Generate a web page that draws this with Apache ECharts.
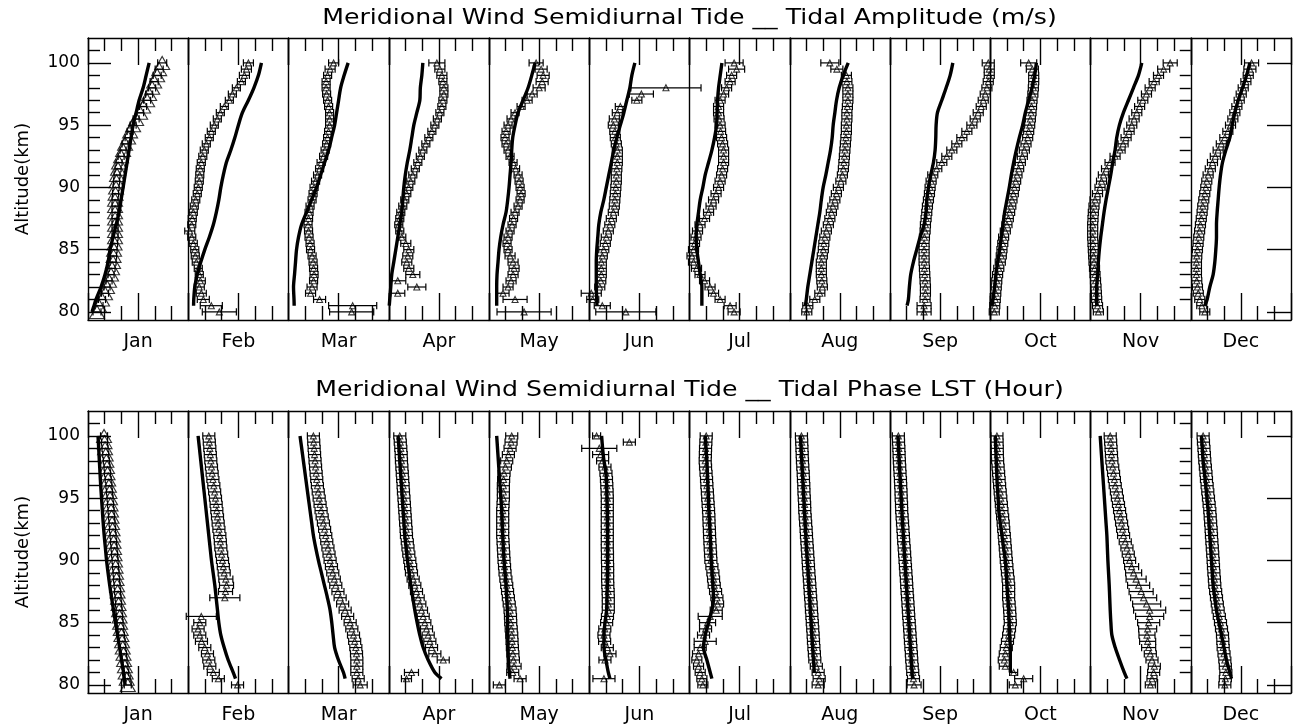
<!DOCTYPE html>
<html><head><meta charset="utf-8">
<script src="https://cdn.jsdelivr.net/npm/echarts@6/dist/echarts.min.js"></script>
<style>html,body{margin:0;padding:0;background:#fff}#c{width:1294px;height:727px}</style>
</head><body><div id="c"></div>
<script>
// ---------- categories / axes ----------
const months = ['Jan','Feb','Mar','Apr','May','Jun','Jul','Aug','Sep','Oct','Nov','Dec'];
const obsAlt = [80,80.5,81,81.5,82,82.5,83,83.5,84,84.5,85,85.5,86,86.5,87,87.5,88,88.5,89,89.5,90,90.5,91,91.5,92,92.5,93,93.5,94,94.5,95,95.5,96,96.5,97,97.5,98,98.5,99,99.5,100];
const modelAlt = [80,80.5,81,82,83,84,85,86,87,88,89,90,91,92,93,94,95,96,97,98,99,100];
const altMajorTicks = [80,85,90,95,100];
const altMinorTicks = [81,82,83,84,86,87,88,89,91,92,93,94,96,97,98,99,101];
const titleAmp = 'Meridional Wind Semidiurnal Tide __ Tidal Amplitude (m/s)';
const titlePhase = 'Meridional Wind Semidiurnal Tide __ Tidal Phase LST (Hour)';

// ---------- amplitude (m/s): observed, error, model ----------
const ampObsJan = [5.4,6.6,8.4,10.2,11.4,12.6,13.8,14.4,15,15.3,15.6,15.9,16.2,16.2,16.2,16.2,16.2,16.2,16.2,16.5,16.8,17.1,17.4,18,18.6,19.8,21,22.2,24,25.2,27,28.8,31.2,33,35.4,36.6,38.4,39.6,41.4,42.6,44.4];
const ampObsFeb = [18.6,13.8,9,7.8,6.6,7.2,6.6,6,4.8,4.2,3.9,3,2.1,0.9,2.1,2.4,3,3.6,4.5,5.4,6,6.6,6.9,7.2,7.8,8.7,9.6,10.8,12.6,13.8,15.6,17.4,19.2,21.6,24.6,26.4,28.8,31.8,33.6,34.8,36];
const ampObsMar = [37.8,38.4,18.6,13.2,14.1,15,15.3,15,14.7,14.1,13.2,12.9,12.3,12,11.7,12,12.3,12.9,14.1,14.7,15.3,16.2,17.4,18.6,19.5,21,21.9,22.8,23.4,24,24.6,24.6,24.6,24,23.4,22.8,22.5,22.5,23.4,24.9,27];
const ampObsApr = [null,null,null,5.4,16.8,5.4,14.4,12,10.8,11.4,12,10.2,7.8,6.6,6,6.6,7.2,8.4,9.6,10.8,12,13.2,14.4,15.9,17.4,18.9,20.4,22.2,24,25.8,27.6,29.1,30.6,31.8,32.4,33,33,32.4,31.8,30.6,28.8];
const ampObsMay = [21,null,15.6,8.4,11.4,13.2,14.4,15,14.4,12.6,11.4,10.8,11.4,12.6,13.8,14.7,15.6,17.4,18.6,19.2,18.6,18,17.4,15.9,14.4,12.6,11.4,10.2,9.6,10.2,11.4,13.2,15.6,19.2,22.8,25.8,30,31.8,32.4,31.2,28.2];
const ampObsJun = [21.9,7.8,2.1,1.2,6.3,6.9,7.2,7.2,7.2,7.8,8.7,9.6,10.2,11.4,12.3,13.2,14.4,15,15.3,15.6,15.9,16.2,16.2,16.5,16.8,16.8,16.8,16.2,15.6,15.3,14.4,15,16.8,18.6,28.5,31.2,45.9,null,null,null,null];
const ampObsJul = [26.7,24.3,18.3,14.4,12.3,9,6.3,4.2,2.4,1.5,2.4,3,3.9,4.8,6.3,9,11.4,12.9,14.4,15.9,17.4,18.3,19.2,19.8,20.4,20.4,20.4,19.8,19.2,18.6,18.3,17.7,17.4,17.4,18.3,20.4,22.2,24.3,25.2,28.2,26.7];
const ampObsAug = [10.2,10.8,15,18,19.5,19.2,18.9,18.9,18.9,19.5,20.1,20.4,21,21.9,23.1,24,24.9,25.8,27,27.9,29.1,30.6,31.5,32.1,32.4,32.7,33,33.3,33.6,33.9,33.9,34.2,34.2,34.5,34.8,34.8,34.8,34.2,33.9,28.2,24];
const ampObsSep = [20.4,20.4,21,21.2,21.2,21,20.8,20.6,20.4,20.4,20.4,20.4,20.6,21,21.2,21.6,22,22.4,23,23.6,24,24.6,25.6,28,31,34,37,40,43,46,49,51,52.8,54.6,55.8,57,58,58.8,59.4,59.4,58.8];
const ampObsOct = [2.4,2.7,3,3.3,3.6,3.9,4.4,5.1,6,6.6,7,7.5,8,9,10,10.8,11.6,12.3,13,13.8,14.4,15.2,16,17,18,19.2,20.4,21.4,22.4,23,23.6,24,24.4,24.7,25,25.5,25.8,26,26,25.2,23];
const ampObsNov = [4.7,4.2,3.7,3.5,3.3,3,2.7,2.4,2.1,1.9,1.7,1.5,1.3,1.3,1.3,1.5,1.7,2.1,2.7,4.2,5.7,6.6,7.7,9.6,11.7,14.7,17.7,19.5,21.3,23.1,24.7,26.1,27.7,29.4,31.3,33.5,35.7,38.1,40.7,43.8,47.7];
const ampObsDec = [8.4,6.6,5.4,4.5,4,3.6,3.4,3.4,3.4,3.6,4,4.4,4.8,5.3,5.8,6.3,6.8,7.2,7.8,8.4,9,9.6,10.4,11.7,13,14.7,16.4,18.3,20.4,22.2,23.8,25.2,26.4,27.6,29,30.2,31.4,33,34.4,35.4,36.4];

const ampErrJan = [2.4,2.4,2.1,2.1,1.8,1.8,1.8,1.8,1.8,1.8,1.8,1.8,1.8,1.8,1.8,1.8,1.8,1.8,1.8,1.8,1.8,1.8,1.8,1.8,1.8,1.8,1.8,1.8,1.8,1.8,1.8,1.8,2.1,2.1,2.1,2.1,2.1,2.4,2.4,2.4,2.7];
const ampErrFeb = [10.2,6.6,3.6,3,3,3,2.4,2.4,2.4,2.4,2.4,2.4,2.4,3,2.4,2.4,2.4,2.4,2.4,2.4,2.4,2.4,2.4,2.4,2.4,2.4,2.4,2.4,2.4,2.4,2.4,2.4,2.4,2.4,2.4,2.4,2.4,2.4,3,3,3];
const ampErrMar = [13.2,14.4,3.6,3,3,2.4,2.4,2.4,2.4,2.4,2.4,2.4,2.4,2.4,2.4,2.4,2.4,2.4,2.4,2.4,2.4,2.4,2.4,2.4,2.4,2.4,2.4,2.4,2.4,2.4,2.4,2.4,2.4,2.4,2.4,2.4,2.4,2.4,2.4,3,3];
const ampErrApr = [null,null,null,4.2,5.4,4.8,4.2,3,3,3,3,3,2.4,2.4,2.4,2.4,2.4,2.4,2.4,2.4,2.4,2.4,2.4,2.4,2.4,2.4,2.4,2.4,2.4,2.4,2.4,2.4,2.4,2.4,2.4,2.4,2.4,2.4,3,3,4.8];
const ampErrMay = [16.2,null,7.2,3.6,3,3,3,3,3,3,2.4,2.4,2.4,2.4,2.4,2.4,2.4,2.4,2.4,2.4,2.4,2.4,2.4,2.4,2.4,2.4,2.4,2.4,2.4,2.4,2.4,2.4,2.4,2.4,3,3,3.6,3.6,3.6,3.6,4.2];
const ampErrJun = [18,4.8,3.6,6,3,3,3,3,3,3,3,3,3,3,3,3,3,3,3,3,3,3,3,3,3,3,3,3,3,3,3,3,3,3,3,7.2,21,null,null,null,null];
const ampErrJul = [3.6,3.6,3,3,3,3,3,3,3,3,3,3,3,3,3,3,3,3,3,3,3,3,3,3,3,3,3,3,3,3,3,3,3,3,3,3,3,3,3,4.8,5.4];
const ampErrAug = [3,3,3,3,3,3,3,3,3,3,3,3,3,3,3,3,3,3,3,3,3,3,3,3,3,3,3,3,3,3,3,3,3,3,3,3,3,3,3,3.6,5.4];
const ampErrSep = [4.2,4.2,3,3,3,3,3,3,3,3,3,3,3,3,3,3,3,3,3,3,3,3,3,3,3,3,3,3,3,3,3,3,3,3,3,3,3,3,3,3,3.6];
const ampErrOct = [3,3,3,3,3,3,3,3,3,3,3,3,3,3,3,3,3,3,3,3,3,3,3,3,3,3,3,3,3,3,3,3,3,3,3,3,3,3,3,3.6,4.8];
const ampErrNov = [3,3,3,3,3,3,3,3,3,3,3,3,3,3,3,3,3,3,3,3,3,3,3,3,3,3,3,3,3,3,3,3,3,3,3,3,3,3,3,3.6,4.2];
const ampErrDec = [3,3,3,3,3,3,3,3,3,3,3,3,3,3,3,3,3,3,3,3,3,3,3,3,3,3,3,3,3,3,3,3,3,3,3,3,3,3,3,3.6,4.2];

const ampModelJan = [2.4,3.6,4.8,7.8,10.2,12,13.2,15,16.8,18.6,19.8,21,22.2,23.4,24.6,25.8,27,28.8,30.6,33,34.8,36.6];
const ampModelFeb = [null,3.2,3.3,3.9,5.4,7.5,9.9,12.6,15,16.8,18.3,19.5,21,22.8,25.5,27.9,30,32.4,36,39.3,42,43.8];
const ampModelMar = [null,3.4,3.3,3,3.6,4.2,4.8,6,7.8,10.8,13.8,16.8,19.2,21.6,24,25.8,27.6,28.8,30,31.2,33.3,35.7];
const ampModelApr = [null,0.3,0.6,1.2,1.8,3,4.2,5.4,6.6,7.8,8.4,9,9.9,11.1,12.6,13.8,15,16.8,18.6,18.9,19.8,20.4];
const ampModelMay = [null,4.6,4.6,4.6,4.8,5.4,6,7,8.4,10.2,11.2,12,12.6,13.2,13.6,14.2,15.6,17.4,20.4,23.4,25.6,27.6];
const ampModelJun = [null,4.6,4.5,4.2,4.2,4.2,4.5,5.1,5.7,6.9,8.7,10.2,11.7,13.2,14.7,16.5,18.6,20.7,22.5,24.3,25.5,27.3];
const ampModelJul = [null,7.4,7.4,7.4,6.4,5.4,4.4,4,4.4,5.4,6.4,8,9.4,11.4,13.4,15,16.2,16.5,16.8,17.4,18.4,19.4];
const ampModelAug = [null,9.3,9.9,10.8,12,13.2,14.4,15.6,16.8,18,18.9,20,21.6,23,24.4,25.4,26,27,28,29.6,32,35];
const ampModelSep = [null,10.2,11,11.6,12.4,14,16,18,20.4,21.6,22,23,24.4,26,27,27.4,27.6,28.4,31,33.6,36,37.6];
const ampModelOct = [null,1,1.6,2.6,3.4,4.4,5.6,6.6,7.6,8.6,10,11.4,12.6,14,15.6,17.4,19.4,21,23,25,26.6,27.6];
const ampModelNov = [null,3.7,3.7,3.7,4.3,4.7,5.3,6.1,7.1,8.1,9.3,10.7,12.1,13.3,14.7,15.7,17.3,19.7,22.7,25.7,28.7,30.7];
const ampModelDec = [null,8.4,9.8,11.4,13.4,14.4,15,15.4,15.4,15.8,16.4,17,17.8,19,21,23.4,24.8,26.4,28.4,31,33.4,35.4];

// ---------- phase (hour LST): observed, error, model ----------
const phObsJan = [4.76,4.63,4.51,4.42,4.32,4.25,4.16,4.08,4.0,3.92,3.84,3.78,3.72,3.66,3.6,3.54,3.48,3.42,3.36,3.3,3.24,3.18,3.12,3.06,3.0,2.94,2.88,2.82,2.76,2.7,2.64,2.57,2.5,2.42,2.34,2.28,2.2,2.12,2.04,1.98,1.92];
const phObsFeb = [5.9,3.6,3.0,2.58,2.46,2.3,1.98,1.58,1.38,1.18,1.38,1.56,null,null,4.38,4.46,4.58,4.5,4.3,4.2,4.1,4.0,3.9,3.84,3.78,3.67,3.58,3.5,3.42,3.34,3.26,3.16,3.06,2.95,2.86,2.78,2.7,2.64,2.58,2.52,2.46];
const phObsMar = [8.58,8.34,8.18,8.18,8.18,8.14,8.06,7.92,7.78,7.58,7.38,7.08,6.78,6.48,6.18,5.92,5.66,5.48,5.3,5.14,4.98,4.85,4.72,4.58,4.46,4.32,4.18,4.03,3.9,3.78,3.67,3.56,3.46,3.38,3.31,3.24,3.18,3.12,3.07,3.02,2.98];
const phObsApr = [null,2.12,2.72,null,6.52,5.52,5.12,4.92,4.72,4.52,4.32,4.12,3.92,3.72,3.52,3.32,3.12,2.92,2.72,2.62,2.52,2.4,2.3,2.22,2.12,2.08,2.02,1.97,1.92,1.87,1.82,1.76,1.72,1.67,1.62,1.57,1.52,1.49,1.44,1.38,1.32];
const phObsMay = [1.24,3.72,2.84,3.0,2.92,2.86,2.8,2.76,2.72,2.66,2.6,2.57,2.52,2.42,2.32,2.22,2.12,2.02,1.92,1.86,1.8,1.76,1.72,1.68,1.64,1.64,1.64,1.64,1.64,1.68,1.72,1.72,1.72,1.75,1.8,1.96,2.12,2.32,2.52,2.64,2.72];
const phObsJun = [null,1.76,null,null,1.88,2.48,2.16,1.84,1.76,1.86,2.08,2.18,2.28,2.28,2.28,2.26,2.22,2.2,2.2,2.2,2.18,2.18,2.16,2.16,2.16,2.16,2.16,2.16,2.16,2.16,2.16,2.14,2.1,2.06,2.0,1.88,1.6,1.36,1.2,4.8,0.88];
const phObsJul = [1.6,1.48,1.28,1.08,0.88,1.08,1.28,1.88,1.68,1.92,2.16,2.48,3.2,3.36,3.28,3.12,2.96,2.88,2.8,2.68,2.56,2.52,2.48,2.44,2.4,2.38,2.34,2.32,2.28,2.23,2.18,2.14,2.08,2.04,1.98,1.92,1.88,1.9,1.92,1.96,2.0];
const phObsAug = [3.4,3.52,3.4,3.18,3.0,2.95,2.89,2.84,2.8,2.75,2.7,2.65,2.6,2.56,2.5,2.45,2.4,2.35,2.29,2.24,2.2,2.15,2.1,2.05,2.0,1.96,1.9,1.85,1.8,1.78,1.74,1.7,1.68,1.64,1.61,1.56,1.52,1.49,1.46,1.43,1.4];
const phObsSep = [2.88,2.81,2.72,2.66,2.6,2.56,2.5,2.45,2.4,2.35,2.3,2.24,2.2,2.15,2.1,2.05,2.0,1.96,1.9,1.85,1.8,1.75,1.7,1.64,1.6,1.55,1.5,1.45,1.4,1.38,1.34,1.32,1.28,1.25,1.2,1.16,1.12,1.09,1.06,1.02,1.0];
const phObsOct = [3.0,4.0,2.8,1.8,1.68,1.8,1.92,2.06,2.2,2.3,2.4,2.36,2.32,2.26,2.2,2.2,2.2,2.14,2.06,1.99,1.92,1.86,1.8,1.74,1.68,1.61,1.55,1.48,1.4,1.33,1.26,1.19,1.12,1.06,1.0,0.94,0.88,0.85,0.84,0.82,0.8];
const phObsNov = [7.16,7.36,7.56,7.64,7.36,7.16,6.96,6.84,6.76,6.84,6.96,7.08,7.08,6.72,6.36,6.06,5.76,5.46,5.16,4.92,4.68,4.52,4.36,4.16,3.96,3.84,3.72,3.6,3.48,3.35,3.22,3.1,2.96,2.86,2.76,2.66,2.56,2.51,2.46,2.41,2.36];
const phObsDec = [4.08,4.14,4.2,4.14,4.08,3.98,3.88,3.84,3.8,3.68,3.56,3.42,3.28,3.18,3.08,2.98,2.88,2.83,2.77,2.72,2.68,2.63,2.58,2.53,2.48,2.44,2.38,2.33,2.28,2.2,2.12,2.04,1.96,1.88,1.82,1.75,1.68,1.63,1.58,1.52,1.48];

const phErrJan = [0.42,0.42,0.36,0.36,0.36,0.36,0.36,0.36,0.36,0.36,0.36,0.36,0.36,0.36,0.36,0.36,0.36,0.36,0.36,0.36,0.36,0.36,0.36,0.36,0.36,0.36,0.36,0.36,0.36,0.36,0.36,0.36,0.36,0.36,0.36,0.36,0.36,0.36,0.36,0.36,0.42];
const phErrFeb = [0.72,0.72,0.72,0.72,0.72,0.72,0.72,0.72,0.72,0.72,0.72,1.8,null,null,1.8,0.84,0.84,0.84,0.72,0.72,0.72,0.72,0.72,0.72,0.72,0.72,0.72,0.72,0.72,0.72,0.72,0.72,0.72,0.72,0.72,0.72,0.72,0.72,0.72,0.72,0.72];
const phErrMar = [0.84,0.72,0.72,0.72,0.72,0.72,0.72,0.72,0.72,0.72,0.72,0.72,0.72,0.72,0.72,0.72,0.72,0.72,0.72,0.72,0.72,0.72,0.72,0.72,0.72,0.72,0.72,0.72,0.72,0.72,0.72,0.72,0.72,0.72,0.72,0.72,0.72,0.72,0.72,0.72,0.72];
const phErrApr = [null,0.6,0.84,null,0.72,0.72,0.72,0.72,0.72,0.72,0.72,0.72,0.72,0.72,0.72,0.72,0.72,0.72,0.72,0.72,0.72,0.72,0.72,0.72,0.72,0.72,0.72,0.72,0.72,0.72,0.72,0.72,0.72,0.72,0.72,0.72,0.72,0.72,0.72,0.72,0.72];
const phErrMay = [0.72,0.72,0.72,0.84,0.72,0.72,0.72,0.72,0.72,0.72,0.72,0.72,0.72,0.72,0.72,0.72,0.72,0.72,0.72,0.72,0.72,0.72,0.72,0.72,0.72,0.72,0.72,0.72,0.72,0.72,0.72,0.72,0.72,0.72,0.72,0.72,0.72,0.72,0.72,0.72,0.72];
const phErrJun = [null,1.32,null,null,0.72,0.72,0.72,0.72,0.72,0.72,0.72,0.72,0.72,0.72,0.72,0.72,0.72,0.72,0.72,0.72,0.72,0.72,0.72,0.72,0.72,0.72,0.72,0.72,0.72,0.72,0.72,0.72,0.72,0.72,0.72,0.72,0.72,0.96,2.1,0.72,0.48];
const phErrJul = [0.6,0.6,0.6,0.6,0.6,0.72,0.72,1.32,0.72,0.72,0.96,1.44,0.72,0.72,0.72,0.72,0.72,0.72,0.72,0.72,0.72,0.72,0.72,0.72,0.72,0.72,0.72,0.72,0.72,0.72,0.72,0.72,0.72,0.72,0.72,0.72,0.72,0.72,0.72,0.72,0.72];
const phErrAug = [0.72,0.72,0.72,0.72,0.72,0.72,0.72,0.72,0.72,0.72,0.72,0.72,0.72,0.72,0.72,0.72,0.72,0.72,0.72,0.72,0.72,0.72,0.72,0.72,0.72,0.72,0.72,0.72,0.72,0.72,0.72,0.72,0.72,0.72,0.72,0.72,0.72,0.72,0.72,0.72,0.72];
const phErrSep = [0.84,0.72,0.72,0.72,0.72,0.72,0.72,0.72,0.72,0.72,0.72,0.72,0.72,0.72,0.72,0.72,0.72,0.72,0.72,0.72,0.72,0.72,0.72,0.72,0.72,0.72,0.72,0.72,0.72,0.72,0.72,0.72,0.72,0.72,0.72,0.72,0.72,0.72,0.72,0.72,0.72];
const phErrOct = [0.72,1.08,0.48,0.72,0.72,0.72,0.72,0.72,0.72,0.72,0.72,0.72,0.72,0.72,0.72,0.72,0.72,0.72,0.72,0.72,0.72,0.72,0.72,0.72,0.72,0.72,0.72,0.72,0.72,0.72,0.72,0.72,0.72,0.72,0.72,0.72,0.72,0.72,0.72,0.72,0.72];
const phErrNov = [0.6,0.6,0.72,0.72,0.72,0.72,0.84,0.96,0.96,1.08,1.32,1.68,1.92,1.68,1.56,1.44,1.32,1.2,0.96,0.84,0.72,0.72,0.72,0.72,0.72,0.72,0.72,0.72,0.72,0.72,0.72,0.72,0.72,0.72,0.72,0.72,0.72,0.72,0.72,0.72,0.72];
const phErrDec = [0.72,0.72,0.72,0.72,0.72,0.72,0.72,0.72,0.72,0.72,0.72,0.72,0.72,0.72,0.72,0.72,0.72,0.72,0.72,0.72,0.72,0.72,0.72,0.72,0.72,0.72,0.72,0.72,0.72,0.72,0.72,0.72,0.72,0.72,0.72,0.72,0.72,0.72,0.72,0.72,0.72];

const phModelJan = [4.44,4.35,4.26,4.02,3.78,3.54,3.3,3.06,2.82,2.6,2.4,2.22,2.08,1.94,1.82,1.72,1.62,1.52,1.44,1.36,1.28,1.2];
const phModelFeb = [null,5.66,5.38,4.78,4.3,3.9,3.66,3.5,3.34,3.18,2.98,2.78,2.62,2.46,2.3,2.14,1.98,1.82,1.66,1.5,1.34,1.18];
const phModelMar = [null,6.78,6.58,5.98,5.52,5.34,5.18,4.98,4.66,4.3,3.94,3.58,3.26,2.98,2.78,2.58,2.38,2.18,1.98,1.78,1.58,1.38];
const phModelApr = [null,6.32,5.52,4.72,4.12,3.72,3.4,3.12,2.88,2.64,2.44,2.24,2.08,1.92,1.82,1.72,1.62,1.52,1.42,1.32,1.22,1.12];
const phModelMay = [null,2.52,2.44,2.32,2.28,2.24,2.22,2.2,2.12,2.04,1.92,1.8,1.72,1.64,1.58,1.52,1.42,1.32,1.22,1.12,1.02,0.92];
const phModelJun = [null,2.48,2.28,2.0,1.76,1.76,1.88,2.08,2.12,2.16,2.2,2.2,2.2,2.2,2.18,2.16,2.12,2.08,2.0,1.76,1.6,1.48];
const phModelJul = [null,2.68,2.48,2.08,1.68,1.88,2.28,2.68,2.88,2.8,2.7,2.6,2.54,2.48,2.4,2.32,2.26,2.2,2.14,2.08,1.98,1.88];
const phModelAug = [null,null,2.94,2.84,2.74,2.64,2.56,2.46,2.38,2.28,2.2,2.1,2.0,1.92,1.84,1.76,1.68,1.6,1.52,1.44,1.36,1.28];
const phModelSep = [null,2.7,2.64,2.54,2.45,2.35,2.26,2.16,2.06,1.97,1.87,1.78,1.68,1.6,1.5,1.42,1.34,1.26,1.18,1.1,1.03,0.96];
const phModelOct = [null,null,2.4,2.4,2.4,2.32,2.26,2.2,2.1,2.0,1.92,1.8,1.6,1.4,1.2,1.02,0.94,0.84,0.78,0.72,0.66,0.6];
const phModelNov = [null,4.36,4.04,3.48,2.96,2.56,2.44,2.36,2.3,2.24,2.16,2.08,2.02,1.96,1.86,1.76,1.66,1.56,1.46,1.36,1.26,1.16];
const phModelDec = [null,4.88,4.68,4.28,3.98,3.68,3.38,3.08,2.88,2.68,2.58,2.48,2.38,2.28,2.18,2.08,1.94,1.8,1.64,1.48,1.38,1.28];

const ampObs = [ampObsJan,ampObsFeb,ampObsMar,ampObsApr,ampObsMay,ampObsJun,ampObsJul,ampObsAug,ampObsSep,ampObsOct,ampObsNov,ampObsDec];
const ampErr = [ampErrJan,ampErrFeb,ampErrMar,ampErrApr,ampErrMay,ampErrJun,ampErrJul,ampErrAug,ampErrSep,ampErrOct,ampErrNov,ampErrDec];
const ampModel = [ampModelJan,ampModelFeb,ampModelMar,ampModelApr,ampModelMay,ampModelJun,ampModelJul,ampModelAug,ampModelSep,ampModelOct,ampModelNov,ampModelDec];
const phObs = [phObsJan,phObsFeb,phObsMar,phObsApr,phObsMay,phObsJun,phObsJul,phObsAug,phObsSep,phObsOct,phObsNov,phObsDec];
const phErr = [phErrJan,phErrFeb,phErrMar,phErrApr,phErrMay,phErrJun,phErrJul,phErrAug,phErrSep,phErrOct,phErrNov,phErrDec];
const phModel = [phModelJan,phModelFeb,phModelMar,phModelApr,phModelMay,phModelJun,phModelJul,phModelAug,phModelSep,phModelOct,phModelNov,phModelDec];

// ---------- layout / style ----------
const FONT = 'DejaVu Sans, Verdana, sans-serif';
const BLACK = '#000';
const plotLeft = 88, plotRight = 1291, colW = (plotRight - plotLeft) / 12, plotH = 282;
const yMin = 79.35, yMax = 102;
const panels = [
  {top: 38, xMax: 60, obs: ampObs, err: ampErr, model: ampModel, title: titleAmp, titleY: 19},
  {top: 411, xMax: 12, obs: phObs, err: phErr, model: phModel, title: titlePhase, titleY: 391}
];

const grid = [], xAxis = [], yAxis = [], series = [], graphic = [];
const lineSt = {color: BLACK, width: 1.4};

panels.forEach((P, p) => {
  graphic.push({type: 'text', x: (plotLeft + plotRight) / 2, y: P.titleY, scaleX: 1.2, silent: true,
    style: {text: P.title, fill: BLACK, font: '21px ' + FONT, textAlign: 'center', textVerticalAlign: 'middle'}});
  for (let m = 0; m < 12; m++) {
    const g = grid.length;
    grid.push({left: plotLeft + m * colW, top: P.top, width: colW, height: plotH, containLabel: false, outerBoundsMode: 'none'});
    const xBase = {type: 'value', gridIndex: g, min: 0, max: P.xMax, interval: P.xMax / 2,
      axisLine: {show: true, onZero: false, lineStyle: lineSt},
      axisTick: {show: true, inside: true, length: 27, lineStyle: lineSt},
      minorTick: {show: true, splitNumber: 3, length: 14, lineStyle: lineSt},
      axisLabel: {show: false}, splitLine: {show: false}, minorSplitLine: {show: false}};
    const xb = xAxis.length;
    xAxis.push(Object.assign({}, xBase, {position: 'bottom', name: months[m], nameLocation: 'middle', nameGap: 13,
      nameTextStyle: {fontSize: 19, color: BLACK, fontFamily: FONT, verticalAlign: 'top'}}));
    xAxis.push(Object.assign({}, xBase, {position: 'top', minorTick: {show: true, splitNumber: 3, length: 13, lineStyle: lineSt}}));

    const yi = yAxis.length;
    const yMain = {type: 'value', gridIndex: g, min: yMin, max: yMax, position: 'left',
      axisLine: {show: true, onZero: false, lineStyle: lineSt},
      axisTick: {show: false}, axisLabel: {show: false}, splitLine: {show: false}};
    if (m === 0) {
      yMain.axisTick = {show: true, inside: true, length: 23, customValues: altMajorTicks, lineStyle: lineSt};
      yMain.axisLabel = {show: true, customValues: altMajorTicks, fontSize: 17, color: BLACK, fontFamily: FONT, margin: 8};
      yMain.name = 'Altitude(km)';
      yMain.nameLocation = 'middle';
      yMain.nameGap = 56;
      yMain.nameTextStyle = {fontSize: 18, color: BLACK, fontFamily: FONT};
    }
    yAxis.push(yMain);
    if (m === 0) {
      yAxis.push({type: 'value', gridIndex: g, min: yMin, max: yMax, position: 'left',
        axisLine: {show: false}, axisLabel: {show: false}, splitLine: {show: false},
        axisTick: {show: true, inside: true, length: 12, customValues: altMinorTicks, lineStyle: lineSt}});
    }
    if (m === 11) {
      yAxis.push({type: 'value', gridIndex: g, min: yMin, max: yMax, position: 'right',
        axisLine: {show: true, onZero: false, lineStyle: lineSt}, axisLabel: {show: false}, splitLine: {show: false},
        axisTick: {show: true, inside: true, length: 24, customValues: altMajorTicks, lineStyle: lineSt}});
      yAxis.push({type: 'value', gridIndex: g, min: yMin, max: yMax, position: 'right',
        axisLine: {show: false}, axisLabel: {show: false}, splitLine: {show: false},
        axisTick: {show: true, inside: true, length: 11, customValues: altMinorTicks, lineStyle: lineSt}});
    }

    const obs = P.obs[m], err = P.err[m], mod = P.model[m];
    const pts = [], bars = [], line = [];
    obsAlt.forEach((a, i) => {
      if (obs[i] == null) return;
      pts.push([obs[i], a]);
      if (err[i] != null) bars.push([obs[i], a, err[i]]);
    });
    modelAlt.forEach((a, i) => { if (mod[i] != null) line.push([mod[i], a]); });

    series.push({type: 'custom', xAxisIndex: xb, yAxisIndex: yi, data: bars, z: 2, silent: true,
      encode: {x: 0, y: 1}, clip: false,
      renderItem: (params, api) => {
        const x = api.value(0), y = api.value(1), e = api.value(2);
        const a = api.coord([x - e, y]), b = api.coord([x + e, y]);
        const h = 3.6, st = {stroke: BLACK, lineWidth: 1.2};
        return {type: 'group', children: [
          {type: 'line', shape: {x1: a[0], y1: a[1], x2: b[0], y2: b[1]}, style: st},
          {type: 'line', shape: {x1: a[0], y1: a[1] - h, x2: a[0], y2: a[1] + h}, style: st},
          {type: 'line', shape: {x1: b[0], y1: b[1] - h, x2: b[0], y2: b[1] + h}, style: st}
        ]};
      }});
    series.push({type: 'scatter', xAxisIndex: xb, yAxisIndex: yi, data: pts, z: 3, silent: true, clip: false,
      symbol: 'triangle', symbolSize: m === 0 ? [15, 13] : [6, 6],
      itemStyle: {color: 'rgba(0,0,0,0)', borderColor: BLACK, borderWidth: 1.1}});
    series.push({type: 'line', xAxisIndex: xb, yAxisIndex: yi, data: line, z: 4, silent: true,
      showSymbol: false, symbol: 'none', smooth: 0.3, lineStyle: {color: BLACK, width: 3.4}});
  }
});

const chart = echarts.init(document.getElementById('c'), null, {renderer: 'canvas'});
chart.setOption({animation: false, backgroundColor: '#fff', grid, xAxis, yAxis, series, graphic});
</script>
</body></html>
